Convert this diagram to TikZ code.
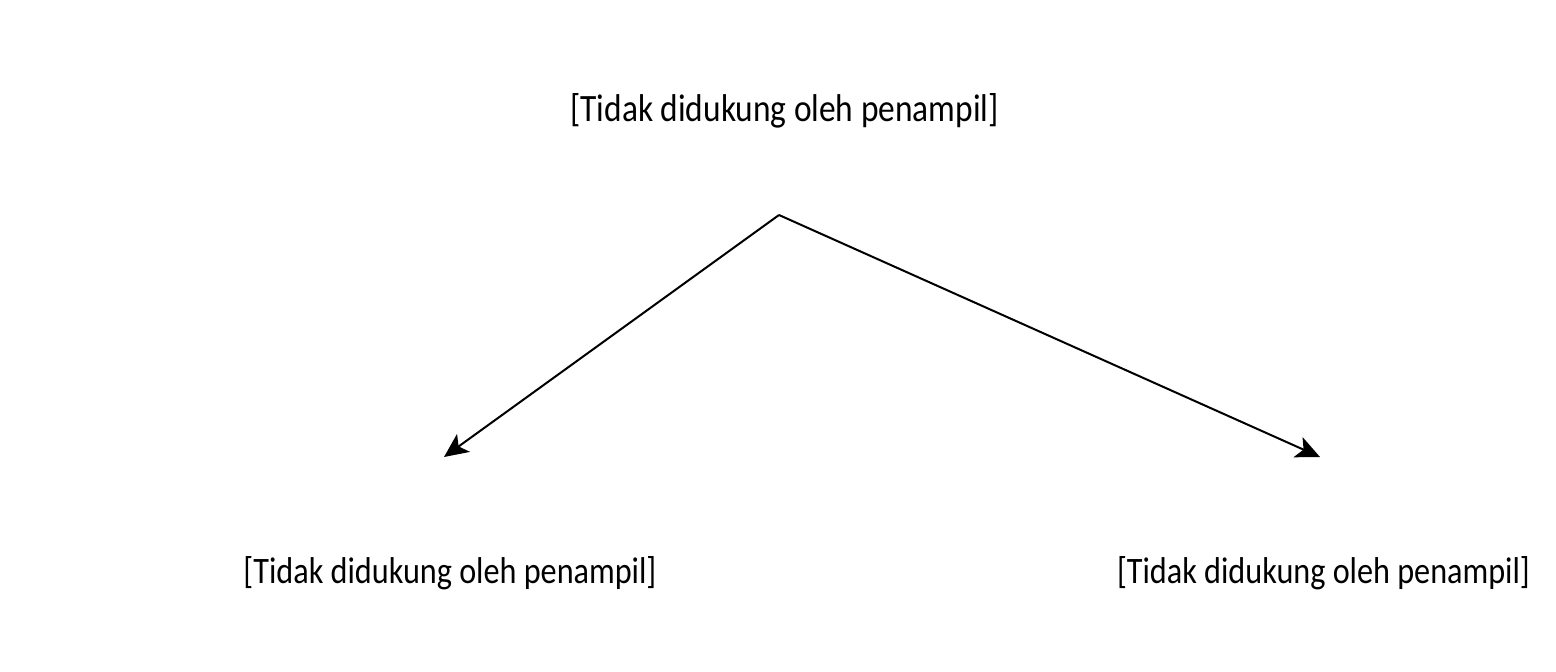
\documentclass[tikz,border=0pt]{standalone}
\usepackage{fontspec}
\setmainfont{Carlito}
\usetikzlibrary{arrows.meta}
\tikzset{
  lbl/.style={inner sep=0pt, yscale=1.16, font=\fontsize{33.4pt}{40pt}\selectfont, text=black},
  lblsmall/.style={lbl, font=\fontsize{32.2pt}{39pt}\selectfont},
  conn/.style={line width=2pt, draw=black, -{Stealth[length=24pt,width=22pt,inset=6pt]}}
}
\begin{document}
\begin{tikzpicture}[x=1pt,y=-1pt]
\useasboundingbox[fill=white] (0,0) rectangle (1556,672);
\node[lbl] (top) at (784.5,111) {[Tidak didukung oleh penampil]};
\node[lblsmall] (left) at (450,573) {[Tidak didukung oleh penampil]};
\node[lblsmall] (right) at (1323.5,573) {[Tidak didukung oleh penampil]};
\coordinate (apex) at (779,215);
\coordinate (lend) at (444,457);
\coordinate (rend) at (1320,457);
\draw[conn] (apex) -- (lend);
\draw[conn] (apex) -- (rend);
\end{tikzpicture}
\end{document}
